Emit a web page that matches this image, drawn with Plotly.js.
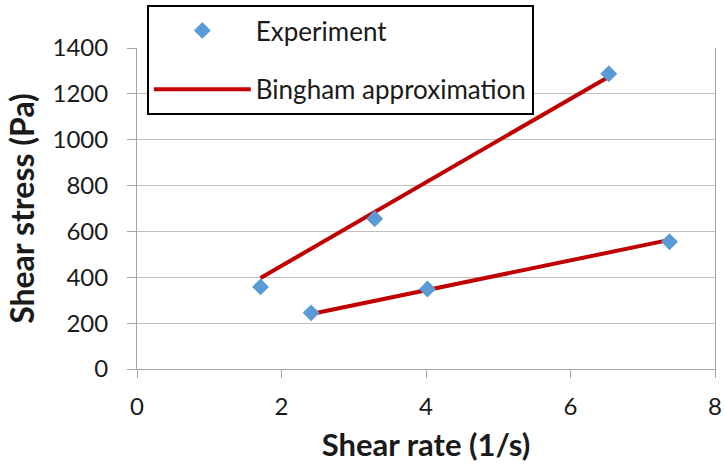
<!DOCTYPE html>
<html><head><meta charset="utf-8">
<script src="https://cdn.plot.ly/plotly-3.0.1.min.js"></script>
<style>html,body{margin:0;padding:0;background:#fff}#chart{width:724px;height:466px}</style>
</head><body><div id="chart"></div>
<script>
// Experiment (two data sets)
const expX = [1.71, 3.29, 6.53, 2.41, 4.02, 7.37];
const expY = [358, 655, 1288, 245, 349, 555];
// Bingham approximation lines (endpoints; null separates the two fits)
const fitX = [1.71, 6.53, null, 2.41, 7.37];
const fitY = [397, 1275, null, 240, 563];
const xTicks = [0, 2, 4, 6, 8];
const yTicks = [0, 200, 400, 600, 800, 1000, 1200, 1400];

const FONT = 'Lato, "Open Sans", sans-serif';
const TXT = '#1a1a1a';
const traces = [
  {x: fitX, y: fitY, mode: 'lines', name: 'Bingham approximation', legendrank: 2, legendgroup: 'b',
   line: {color: '#C00000', width: 4}, connectgaps: false},
  {x: expX, y: expY, mode: 'markers', name: 'Experiment', legendrank: 1, legendgroup: 'a',
   marker: {symbol: 'diamond', size: 13, color: '#5B9BD5'}}
];
const layout = {
  width: 724, height: 466,
  margin: {l: 137, r: 9, t: 48, b: 97, autoexpand: false},
  paper_bgcolor: '#fff', plot_bgcolor: '#fff',
  font: {family: FONT, color: TXT},
  showlegend: true,
  legend: {x: 0.017, y: 1.134, xanchor: 'left', yanchor: 'top', bgcolor: '#fff',
           bordercolor: '#000', borderwidth: 2, font: {size: 26, family: FONT, color: TXT},
           traceorder: 'grouped', tracegroupgap: 22, itemwidth: 97},
  xaxis: {range: [0, 8], tickvals: xTicks, ticktext: xTicks.map(String), showgrid: false, zeroline: false,
          showline: true, linecolor: '#A6A6A6', linewidth: 1, ticks: 'outside', ticklen: 8, tickcolor: '#A6A6A6',
          tickfont: {size: 24, family: FONT, color: TXT}, ticklabelstandoff: 8,
          title: {text: '<b>Shear rate (1/s)</b>', font: {size: 31, family: FONT, color: TXT}, standoff: 15}},
  yaxis: {range: [0, 1400], tickvals: yTicks, ticktext: yTicks.map(String), showgrid: true, gridcolor: '#BFBFBF',
          zeroline: false, showline: true, mirror: true, linecolor: '#A6A6A6', linewidth: 1,
          ticks: 'outside', ticklen: 9, tickcolor: '#A6A6A6',
          tickfont: {size: 24, family: FONT, color: TXT}, ticklabelstandoff: 14,
          title: {text: '<b>Shear stress (Pa)</b>', font: {size: 32, family: FONT, color: TXT}, standoff: 8}}
};
Plotly.newPlot('chart', traces, layout, {displayModeBar: false, staticPlot: true});
</script></body></html>
